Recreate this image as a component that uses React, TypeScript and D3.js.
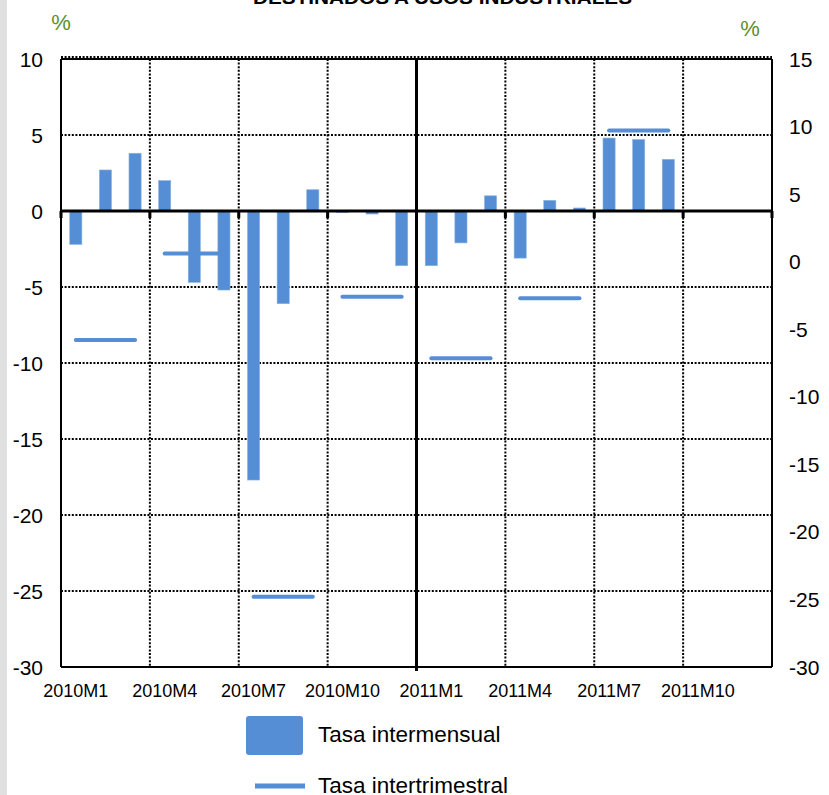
import React from "react";
import * as d3 from "d3";

// Monthly categories (2010M1 .. 2011M12)
const months = [
  "2010M1", "2010M2", "2010M3", "2010M4", "2010M5", "2010M6",
  "2010M7", "2010M8", "2010M9", "2010M10", "2010M11", "2010M12",
  "2011M1", "2011M2", "2011M3", "2011M4", "2011M5", "2011M6",
  "2011M7", "2011M8", "2011M9", "2011M10", "2011M11", "2011M12",
];

// Month-on-month rate (left axis, %)
const tasaIntermensual: (number | null)[] = [
  -2.2, 2.7, 3.8, 2.0, -4.7, -5.2, -17.7, -6.1, 1.4, -0.1, -0.2, -3.6,
  -3.6, -2.1, 1.0, -3.1, 0.7, 0.2, 4.8, 4.7, 3.4, null, null, null,
];

// Quarter-on-quarter rate (right axis, %), one value per quarter
const quarters = ["2010T1", "2010T2", "2010T3", "2010T4", "2011T1", "2011T2", "2011T3", "2011T4"];
const tasaIntertrimestral: (number | null)[] = [-5.8, 0.6, -24.8, -2.6, -7.15, -2.7, 9.7, null];

const leftTicks = [10, 5, 0, -5, -10, -15, -20, -25, -30];
const rightTicks = [15, 10, 5, 0, -5, -10, -15, -20, -25, -30];
const xLabels = ["2010M1", "2010M4", "2010M7", "2010M10", "2011M1", "2011M4", "2011M7", "2011M10"];

const title = "DESTINADOS A USOS INDUSTRIALES";

const W = 829;
const H = 795;
const BLUE = "#558ED5";
const GREEN = "#5B8F2A";
const FONT = "'Liberation Sans', Arial, Helvetica, sans-serif";

export default function App() {
  const plot = { left: 61, right: 772, top: 59, bottom: 667 };

  const x = d3.scaleBand<string>().domain(months).range([plot.left, plot.right]).padding(0);
  const yL = d3.scaleLinear().domain([-30, 10]).range([plot.bottom, plot.top]);
  const yR = d3.scaleLinear().domain([-30, 15]).range([plot.bottom, plot.top]);

  const bw = x.bandwidth();
  const barW = bw * 0.41;
  const y0 = yL(0);

  // vertical grid positions every three months
  const gridX = [3, 6, 9, 15, 18, 21].map((i) => x(months[i]) as number);
  const midX = x(months[12]) as number;
  const tickX = [0, 3, 6, 9, 12, 15, 18, 21].map((i) => x(months[i]) as number).concat([plot.right]);

  const dotted = { stroke: "#000", strokeWidth: 2, strokeDasharray: "2 1.6" };

  return (
    <svg
      width={W}
      height={H}
      style={{ position: "absolute", left: 0, top: 0, background: "#fff" }}
      fontFamily={FONT}
    >
      <rect x={0} y={0} width={W} height={H} fill="#fff" />
      <rect x={0} y={0} width={7} height={H} fill="#E0E0E0" />

      {/* title, mostly above the visible area */}
      <text
        x={(253 + 632) / 2}
        y={4}
        textAnchor="middle"
        fontWeight="bold"
        fontSize={18}
        textLength={379}
        lengthAdjust="spacingAndGlyphs"
      >
        {title}
      </text>

      {/* unit labels */}
      <text x={61} y={30} textAnchor="middle" fontSize={22} fill={GREEN}>%</text>
      <text x={750} y={36} textAnchor="middle" fontSize={22} fill={GREEN}>%</text>

      {/* horizontal grid */}
      {leftTicks
        .filter((t) => t !== 0 && t !== -30)
        .map((t) => (
          <line key={"hg" + t} x1={plot.left} x2={plot.right} y1={yL(t) - (t === 10 ? 2 : 0)} y2={yL(t) - (t === 10 ? 2 : 0)} {...dotted} />
        ))}
      {/* vertical grid */}
      {gridX.map((gx, i) => (
        <line key={"vg" + i} x1={gx} x2={gx} y1={plot.top} y2={plot.bottom} {...dotted} />
      ))}

      {/* bars */}
      {months.map((m, i) => {
        const v = tasaIntermensual[i];
        if (v === null) return null;
        const cx = (x(m) as number) + bw / 2;
        const yv = yL(v);
        return (
          <rect
            key={"b" + m}
            x={cx - barW / 2}
            y={Math.min(yv, y0)}
            width={barW}
            height={Math.abs(yv - y0)}
            fill={BLUE}
            stroke="#8DB3E2"
            strokeWidth={0.6}
          />
        );
      })}

      {/* quarterly segments */}
      {quarters.map((q, k) => {
        const v = tasaIntertrimestral[k];
        if (v === null) return null;
        const x1 = (x(months[k * 3]) as number) + bw / 2;
        const x2 = (x(months[k * 3 + 2]) as number) + bw / 2;
        return (
          <line
            key={"q" + q}
            x1={x1}
            x2={x2}
            y1={yR(v)}
            y2={yR(v)}
            stroke={BLUE}
            strokeWidth={4}
            strokeLinecap="round"
          />
        );
      })}

      {/* frame */}
      <line x1={plot.left} x2={plot.right} y1={plot.top} y2={plot.top} stroke="#000" strokeWidth={2} />
      <line x1={plot.left} x2={plot.right} y1={plot.bottom} y2={plot.bottom} stroke="#000" strokeWidth={2} />
      <line x1={plot.left} x2={plot.left} y1={plot.top} y2={plot.bottom} stroke="#000" strokeWidth={2} />
      <line x1={plot.right} x2={plot.right} y1={plot.top} y2={plot.bottom} stroke="#000" strokeWidth={2} />
      <line x1={midX} x2={midX} y1={plot.top} y2={plot.bottom + 4} stroke="#000" strokeWidth={3} />

      {/* zero line with ticks */}
      <line x1={plot.left} x2={plot.right} y1={y0} y2={y0} stroke="#000" strokeWidth={3} />
      {tickX.map((tx, i) => (
        <rect key={"t" + i} x={tx - 1.5} y={y0} width={3} height={7} fill="#000" />
      ))}

      {/* left axis labels */}
      {leftTicks.map((t) => (
        <text key={"l" + t} x={43} y={yL(t) + 7.5} textAnchor="end" fontSize={21} fill="#000">
          {t}
        </text>
      ))}
      {/* right axis labels */}
      {rightTicks.map((t) => (
        <text key={"r" + t} x={789} y={yR(t) + 7.5} textAnchor="start" fontSize={21} fill="#000">
          {t}
        </text>
      ))}

      {/* x labels */}
      {xLabels.map((m) => (
        <text key={"x" + m} x={(x(m) as number) + bw / 2} y={697} textAnchor="middle" fontSize={18} fill="#000">
          {m}
        </text>
      ))}

      {/* legend */}
      <rect x={246} y={716} width={57} height={39} rx={3} fill={BLUE} />
      <text x={318} y={742} fontSize={22.5} fill="#000">Tasa intermensual</text>
      <line x1={255} x2={305} y1={786} y2={786} stroke={BLUE} strokeWidth={5} />
      <text x={318} y={793} fontSize={22.5} fill="#000">Tasa intertrimestral</text>
    </svg>
  );
}
